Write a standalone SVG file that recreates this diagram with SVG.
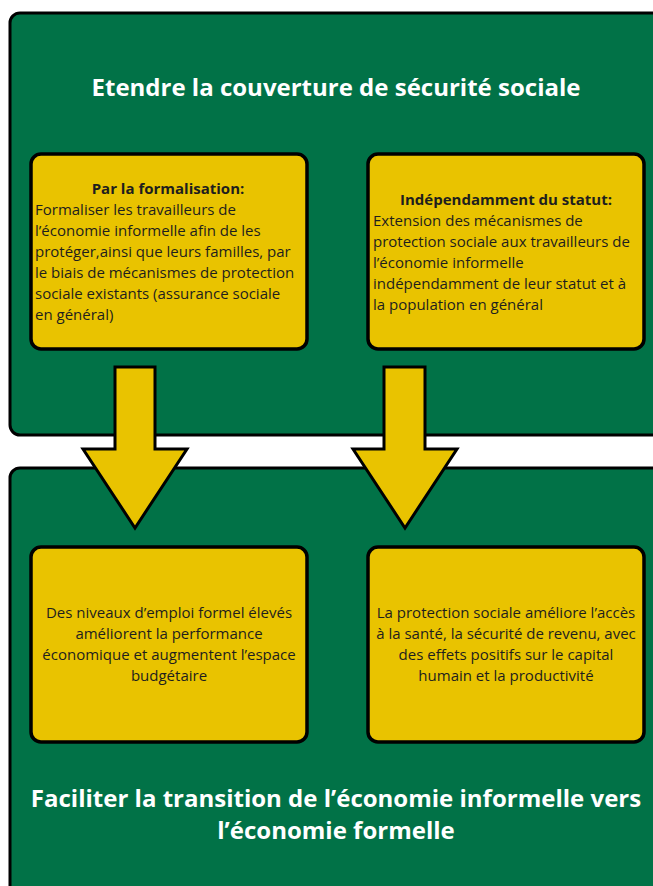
<svg xmlns="http://www.w3.org/2000/svg" width="653" height="886" viewBox="0 0 653 886">
<style>
.panel{fill:#017247;stroke:#000;stroke-width:3}
.box{fill:#E9C300;stroke:#000;stroke-width:3.5}
.arrow{fill:#E9C300;stroke:#000;stroke-width:3;stroke-linejoin:miter}
.title{font-family:"Open Sans","Liberation Sans",sans-serif;font-weight:bold;font-size:24px;fill:#fff;text-anchor:middle}
.t{font-family:"Open Sans","Liberation Sans",sans-serif;font-size:15px;fill:#1e1e1e}
.h{font-weight:bold;text-anchor:middle}
.c{text-anchor:middle}
</style>
<rect width="653" height="886" fill="#fff"/>
<g id="panel-top">
<rect class="panel" x="10" y="13" width="660" height="422" rx="10"/>
<text class="title" x="336" y="96">Etendre la couverture de sécurité sociale</text>
</g>
<g id="panel-bottom">
<rect class="panel" x="10" y="468" width="660" height="430" rx="10"/>
<text class="title" x="336" y="807">Faciliter la transition de l’économie informelle vers</text>
<text class="title" x="336" y="839">l’économie formelle</text>
</g>
<g id="box-formalisation">
<rect class="box" x="31" y="154" width="276" height="195" rx="10"/>
<text class="t h" x="168" y="194">Par la formalisation:</text>
<text class="t" x="35" y="215">Formaliser les travailleurs de</text>
<text class="t" x="35" y="236">l’économie informelle afin de les</text>
<text class="t" x="35" y="257">protéger,ainsi que leurs familles, par</text>
<text class="t" x="35" y="278">le biais de mécanismes de protection</text>
<text class="t" x="35" y="299">sociale existants (assurance sociale</text>
<text class="t" x="35" y="320">en général)</text>
</g>
<g id="box-statut">
<rect class="box" x="368" y="154" width="276" height="195" rx="10"/>
<text class="t h" x="506" y="205">Indépendamment du statut:</text>
<text class="t" x="373" y="226">Extension des mécanismes de</text>
<text class="t" x="373" y="247">protection sociale aux travailleurs de</text>
<text class="t" x="373" y="268">l’économie informelle</text>
<text class="t" x="373" y="289">indépendamment de leur statut et à</text>
<text class="t" x="373" y="310">la population en général</text>
</g>
<g id="box-emploi">
<rect class="box" x="31" y="547" width="276" height="195" rx="10"/>
<text class="t c" x="169" y="618">Des niveaux d’emploi formel élevés</text>
<text class="t c" x="169" y="639">améliorent la performance</text>
<text class="t c" x="169" y="660">économique et augmentent l’espace</text>
<text class="t c" x="169" y="681">budgétaire</text>
</g>
<g id="box-protection">
<rect class="box" x="368" y="547" width="276" height="195" rx="10"/>
<text class="t c" x="506" y="618">La protection sociale améliore l’accès</text>
<text class="t c" x="506" y="639">à la santé, la sécurité de revenu, avec</text>
<text class="t c" x="506" y="660">des effets positifs sur le capital</text>
<text class="t c" x="506" y="681">humain et la productivité</text>
</g>
<g id="connectors">
<polygon class="arrow" points="115,367 155,367 155,449 187,449 135,528 83,449 115,449"/>
<polygon class="arrow" points="384,367 425,367 425,449 457,449 405,528 353,449 384,449"/>
</g>
</svg>
